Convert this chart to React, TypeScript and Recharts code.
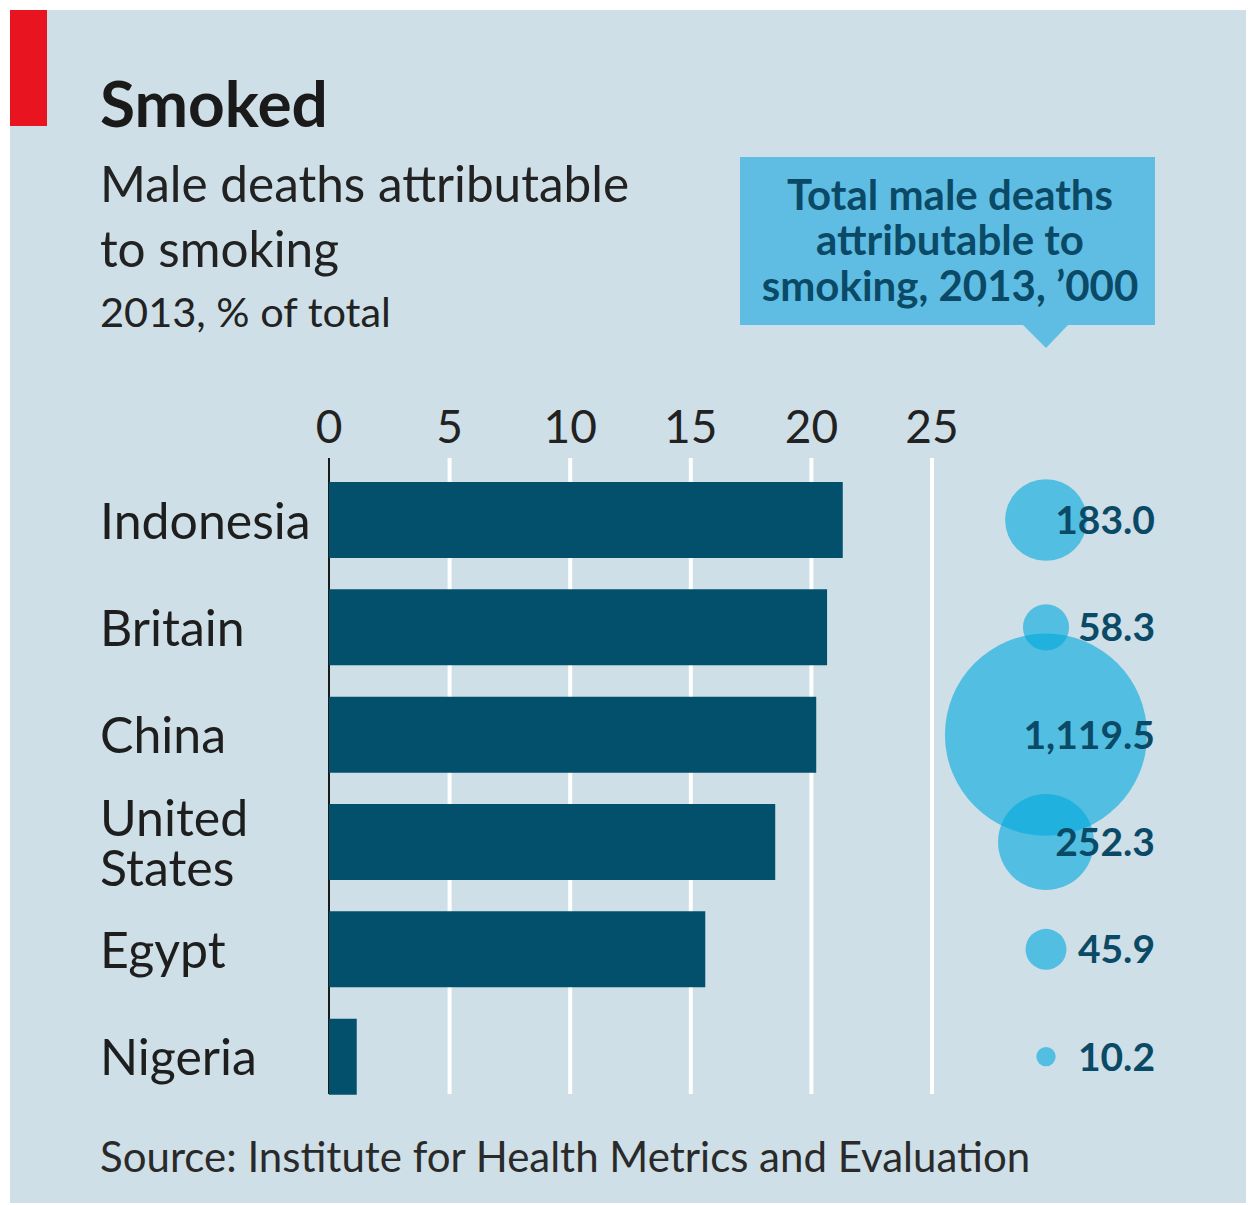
import React from "react";
import { BarChart, Bar, XAxis, YAxis, CartesianGrid, LabelList } from "recharts";

const countries = ["Indonesia", "Britain", "China", "United States", "Egypt", "Nigeria"];
const smokingShare = [21.3, 20.65, 20.2, 18.5, 15.6, 1.15];
const totalDeaths = [183.0, 58.3, 1119.5, 252.3, 45.9, 10.2];
const xTicks = [0, 5, 10, 15, 20, 25];

const data = countries.map((country, i) => ({
  country,
  share: smokingShare[i],
  deaths: totalDeaths[i],
}));

const FONT = "Lato, 'Noto Sans', sans-serif";
const BG = "#cedfe7";
const BAR = "#02506b";
const BUBBLE = "#00a9de";
const DARK_BLUE = "#0b4a66";

const BUBBLE_X = 1036;
const bubbleRadius = (v: number) => 3.02 * Math.sqrt(v);

const XTick = (props: any) => {
  const { x, payload } = props;
  return (
    <text x={x} y={433} textAnchor="middle" fontFamily={FONT} fontSize={46} fill="#222">
      {payload.value}
    </text>
  );
};

const YTick = (props: any) => {
  const { y, payload } = props;
  const words: string[] = String(payload.value).split(" ");
  if (words.length > 1) {
    return (
      <text x={90} y={y - 6} fontFamily={FONT} fontSize={50} fill="#1e1e1e">
        {words.map((w, i) => (
          <tspan key={w} x={90} dy={i === 0 ? 0 : 50}>
            {w}
          </tspan>
        ))}
      </text>
    );
  }
  return (
    <text x={90} y={y + 19} fontFamily={FONT} fontSize={50} fill="#1e1e1e">
      {payload.value}
    </text>
  );
};

const GridLine = (props: any) => {
  const { x1, x2, y1, y2, index } = props;
  const first = index === 0;
  return (
    <line
      key={`g-${index}`}
      x1={x1}
      x2={x2}
      y1={y1 - 8}
      y2={y2 - 16}
      stroke={first ? "#1a1a1a" : "#ffffff"}
      strokeWidth={first ? 2 : 4}
    />
  );
};

const BubbleCircle = (props: any) => {
  const { y, height, value } = props;
  return (
    <circle
      cx={BUBBLE_X}
      cy={y + height / 2}
      r={bubbleRadius(value)}
      fill={BUBBLE}
      fillOpacity={0.6}
    />
  );
};

const BubbleText = (props: any) => {
  const { y, height, value } = props;
  const label = Number(value).toLocaleString("en-US", {
    minimumFractionDigits: 1,
    maximumFractionDigits: 1,
  });
  return (
    <text
      x={1145}
      y={y + height / 2 + 14}
      textAnchor="end"
      fontFamily={FONT}
      fontSize={39}
      fontWeight={700}
      fill={DARK_BLUE}
    >
      {label}
    </text>
  );
};

export default function App() {
  return (
    <div
      style={{
        position: "absolute",
        left: 10,
        top: 10,
        width: 1236,
        height: 1193,
        background: BG,
        overflow: "hidden",
      }}
    >
      <svg width={1236} height={1193} style={{ position: "absolute", left: 0, top: 0 }}>
        <rect x={0} y={0} width={37} height={116} fill="#e8141f" />
        <text x={90} y={117} fontFamily={FONT} fontSize={64} fontWeight={700} fill="#1a1a1a">
          Smoked
        </text>
        <text x={90} y={192} fontFamily={FONT} fontSize={49.5} fill="#222">
          Male deaths attributable
        </text>
        <text x={90} y={257} fontFamily={FONT} fontSize={49.5} fill="#222">
          to smoking
        </text>
        <text x={90} y={317} fontFamily={FONT} fontSize={41.5} fill="#222">
          2013, % of total
        </text>
        <rect x={730} y={147} width={415} height={168} fill="#5fbde3" />
        <polygon points="1013,315 1058,315 1036,338" fill="#5fbde3" />
        <text x={940} y={200} textAnchor="middle" fontFamily={FONT} fontSize={42} fontWeight={700} fill={DARK_BLUE}>
          Total male deaths
        </text>
        <text x={940} y={245} textAnchor="middle" fontFamily={FONT} fontSize={42} fontWeight={700} fill={DARK_BLUE}>
          attributable to
        </text>
        <text x={940} y={291} textAnchor="middle" fontFamily={FONT} fontSize={42} fontWeight={700} fill={DARK_BLUE}>
          smoking, 2013, ’000
        </text>
        <text x={90} y={1162} fontFamily={FONT} fontSize={42} fill="#2a2a2a">
          Source: Institute for Health Metrics and Evaluation
        </text>
      </svg>
      <div style={{ position: "absolute", left: 0, top: 0 }}>
        <BarChart
          width={1236}
          height={1193}
          data={data}
          layout="vertical"
          margin={{ top: 416, right: 314, bottom: 93, left: 90 }}
        >
          <CartesianGrid horizontal={false} vertical={GridLine} />
          <XAxis
            type="number"
            orientation="top"
            domain={[0, 25]}
            ticks={xTicks}
            height={40}
            axisLine={false}
            tickLine={false}
            tick={XTick}
            interval={0}
          />
          <YAxis
            type="category"
            dataKey="country"
            width={229}
            axisLine={false}
            tickLine={false}
            tick={YTick}
            interval={0}
          />
          <Bar dataKey="share" fill={BAR} barSize={76} isAnimationActive={false}>
            <LabelList dataKey="deaths" content={BubbleCircle} />
            <LabelList dataKey="deaths" content={BubbleText} />
          </Bar>
        </BarChart>
      </div>
    </div>
  );
}
